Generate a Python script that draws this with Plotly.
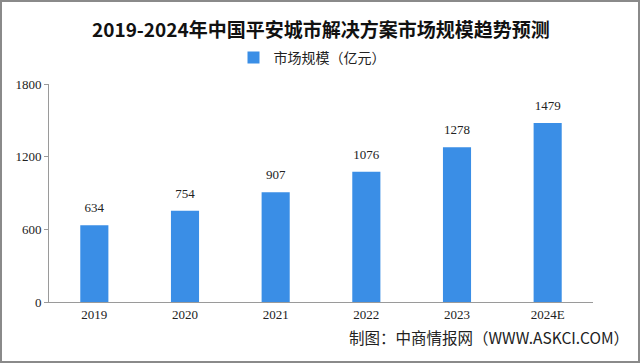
import plotly.graph_objects as go

years = ["2019", "2020", "2021", "2022", "2023", "2024E"]
market_size = [634, 754, 907, 1076, 1278, 1479]
y_ticks = [0, 600, 1200, 1800]

W, H = 640, 363
ML, MR, MT, MB = 49, 47, 84, 61
PW, PH = W - ML - MR, H - MT - MB

BLUE = "#3A8EE6"
CJK = "Noto Sans CJK SC"
NUM = "Liberation Serif"

fig = go.Figure()
fig.add_trace(go.Bar(
    x=years, y=market_size, name="市场规模（亿元）",
    marker=dict(color=BLUE, line=dict(width=0)),
    showlegend=True, hoverinfo="x+y",
))
# value labels above bars
fig.add_trace(go.Scatter(
    x=years, y=market_size, mode="markers+text",
    text=[str(v) for v in market_size], textposition="top center",
    marker=dict(size=14, opacity=0),
    textfont=dict(family=NUM, size=13, color="#222"),
    cliponaxis=False, showlegend=False, hoverinfo="skip",
))

fig.add_annotation(xref="paper", yref="paper", x=0.5, y=1 + (MT - 28) / PH,
                   text="<b>2019-2024年中国平安城市解决方案市场规模趋势预测</b>",
                   showarrow=False, xanchor="center", yanchor="middle",
                   font=dict(family=CJK, size=19, color="#111"))
fig.add_annotation(xref="paper", yref="paper", x=(631 - ML) / PW, y=-(337 - MT - PH) / PH,
                   text="制图：中商情报网（WWW.ASKCI.COM）",
                   showarrow=False, xanchor="right", yanchor="middle",
                   font=dict(family=CJK, size=15.5, color="#222"))

# outer border
fig.add_shape(type="rect", xref="paper", yref="paper",
              x0=-(ML - 1) / PW, x1=1 + (MR - 1) / PW,
              y0=-(MB - 1) / PH, y1=1 + (MT - 1) / PH,
              line=dict(color="#8a8a8a", width=2), fillcolor="rgba(0,0,0,0)")

fig.update_layout(
    width=W, height=H,
    margin=dict(l=ML, r=MR, t=MT, b=MB),
    paper_bgcolor="white", plot_bgcolor="white",
    bargap=0.69,
    showlegend=True,
    legend=dict(orientation="h", x=0.5 - 9 / PW, xanchor="center",
                y=1 + (MT - 58) / PH, yanchor="middle",
                font=dict(family=CJK, size=14, color="#222")),
    xaxis=dict(type="category", categoryorder="array", categoryarray=years,
               showline=True, linecolor="#9a9a9a", linewidth=1,
               ticks="", showgrid=False,
               tickfont=dict(family=NUM, size=13, color="#222")),
    yaxis=dict(range=[0, 1800], tickvals=y_ticks, showline=True,
               linecolor="#9a9a9a", linewidth=1, ticks="outside",
               ticklen=4, tickcolor="#9a9a9a", showgrid=False, zeroline=False,
               tickfont=dict(family=NUM, size=13, color="#222")),
)

fig.write_html("out.html", config={"displayModeBar": False},
               post_script="document.body.style.margin='0';document.body.style.overflow='hidden';")
